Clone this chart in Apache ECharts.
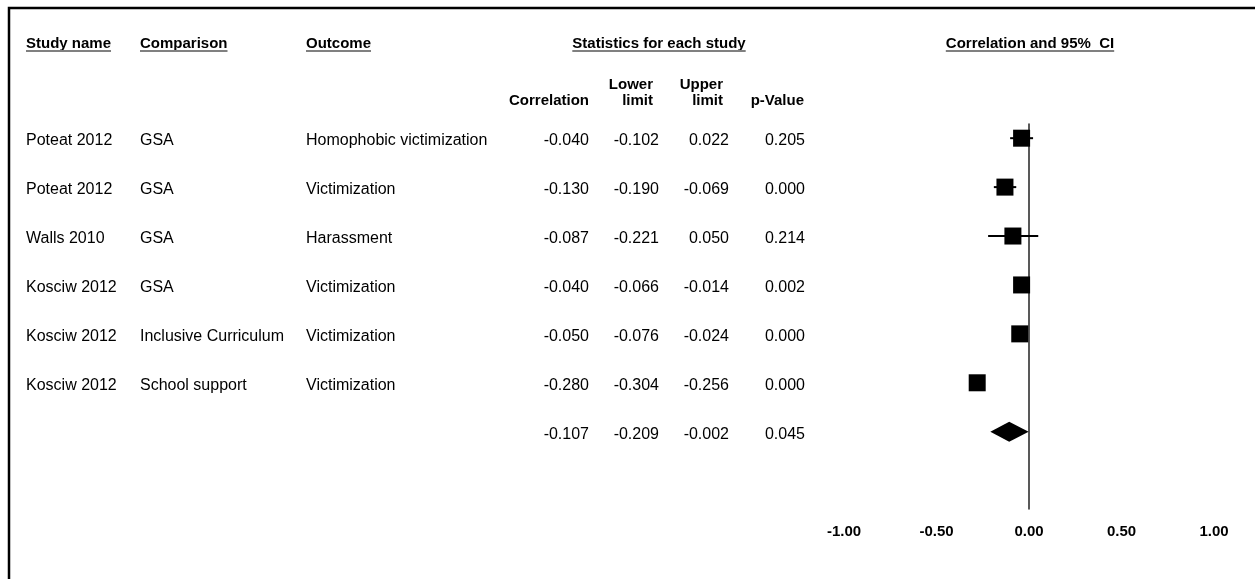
<!DOCTYPE html>
<html>
<head>
<meta charset="utf-8">
<script src="https://cdn.jsdelivr.net/npm/echarts@6/dist/echarts.min.js"></script>
<style>
  html, body { margin: 0; padding: 0; background: #fff; }
  #chart { width: 1255px; height: 579px; }
</style>
</head>
<body>
<div id="chart"></div>
<script>
// study rows
const studyNames = ['Poteat 2012', 'Poteat 2012', 'Walls 2010', 'Kosciw 2012', 'Kosciw 2012', 'Kosciw 2012']
const comparisons = ['GSA', 'GSA', 'GSA', 'GSA', 'Inclusive Curriculum', 'School support']
const outcomes = ['Homophobic victimization', 'Victimization', 'Harassment', 'Victimization', 'Victimization', 'Victimization']
const correlation = [-0.040, -0.130, -0.087, -0.040, -0.050, -0.280]
const lowerLimit = [-0.102, -0.190, -0.221, -0.066, -0.076, -0.304]
const upperLimit = [0.022, -0.069, 0.050, -0.014, -0.024, -0.256]
const pValue = [0.205, 0.000, 0.214, 0.002, 0.000, 0.000]
// pooled row: correlation, lower, upper, p
const summaryStats = [-0.107, -0.209, -0.002, 0.045]
const axisTicks = [-1, -0.5, 0, 0.5, 1]

const FONT = '"Liberation Sans", Arial, sans-serif'
const SUMMARY_ROW = studyNames.length
// y range of both grids, in row units (row 0 on top)
const ROW_MIN = -0.29
const ROW_MAX = 7.58

// column anchors of the table part (px)
const COLS = {
  study: { x: 26, align: 'left' },
  comp: { x: 140, align: 'left' },
  outcome: { x: 306, align: 'left' },
  r: { x: 589, align: 'right' },
  lo: { x: 659, align: 'right' },
  hi: { x: 729, align: 'right' },
  p: { x: 805, align: 'right' },
}

const cells = []
function addCell(col, row, text) {
  cells.push({ ...COLS[col], row, text })
}
studyNames.forEach((s, i) => {
  addCell('study', i, s)
  addCell('comp', i, comparisons[i])
  addCell('outcome', i, outcomes[i])
  addCell('r', i, correlation[i].toFixed(3))
  addCell('lo', i, lowerLimit[i].toFixed(3))
  addCell('hi', i, upperLimit[i].toFixed(3))
  addCell('p', i, pValue[i].toFixed(3))
})
addCell('r', SUMMARY_ROW, summaryStats[0].toFixed(3))
addCell('lo', SUMMARY_ROW, summaryStats[1].toFixed(3))
addCell('hi', SUMMARY_ROW, summaryStats[2].toFixed(3))
addCell('p', SUMMARY_ROW, summaryStats[3].toFixed(3))

// measure header text so the underline fits it
const ctx = document.createElement('canvas').getContext('2d')
function textWidth(t) {
  ctx.font = `bold 15px ${FONT}`
  return ctx.measureText(t).width
}

function header(text, x, y, align, underline) {
  const els = [{
    type: 'text', x, y,
    style: { text, fill: '#000', fontSize: 15, fontWeight: 'bold', fontFamily: FONT, align, verticalAlign: 'middle' },
  }]
  if (underline) {
    const w = textWidth(text)
    const x0 = align === 'center' ? x - w / 2 : align === 'right' ? x - w : x
    els.push({
      type: 'line',
      shape: { x1: x0, y1: y + 7, x2: x0 + w, y2: y + 7 },
      style: { stroke: '#808080', lineWidth: 2 },
    })
  }
  return els
}

const graphics = [
  // frame (only top and left edges fall inside the view)
  { type: 'rect', shape: { x: 9, y: 8, width: 1400, height: 800 }, style: { fill: null, stroke: '#000', lineWidth: 2.5 } },
  ...header('Study name', 26, 44, 'left', true),
  ...header('Comparison', 140, 44, 'left', true),
  ...header('Outcome', 306, 44, 'left', true),
  ...header('Statistics for each study', 659, 44, 'center', true),
  ...header('Correlation and 95%  CI', 1030, 44, 'center', true),
  ...header('Correlation', 589, 101, 'right', false),
  ...header('Lower', 653, 85, 'right', false),
  ...header('limit', 653, 101, 'right', false),
  ...header('Upper', 723, 85, 'right', false),
  ...header('limit', 723, 101, 'right', false),
  ...header('p-Value', 804, 101, 'right', false),
]

const chart = echarts.init(document.getElementById('chart'))

chart.setOption({
  animation: false,
  backgroundColor: '#fff',
  graphic: graphics,
  grid: [
    { left: 0, right: 0, top: 124, height: 385 },
    { left: 844, right: 41, top: 124, height: 385 },
  ],
  xAxis: [
    { gridIndex: 0, type: 'value', min: 0, max: 1255, show: false },
    {
      gridIndex: 1, type: 'value', min: axisTicks[0], max: axisTicks[axisTicks.length - 1], interval: 0.5,
      axisLine: { show: false }, axisTick: { show: false }, splitLine: { show: false },
      axisLabel: {
        margin: 15, color: '#000', fontSize: 15, fontWeight: 'bold', fontFamily: FONT,
        formatter: (v) => v.toFixed(2),
      },
    },
  ],
  yAxis: [
    { gridIndex: 0, type: 'value', min: ROW_MIN, max: ROW_MAX, inverse: true, show: false },
    {
      gridIndex: 1, type: 'value', min: ROW_MIN, max: ROW_MAX, inverse: true,
      axisLine: { show: true, onZero: true, lineStyle: { color: '#222', width: 1.5 } },
      axisTick: { show: false }, axisLabel: { show: false }, splitLine: { show: false },
    },
  ],
  series: [
    {
      type: 'custom',
      xAxisIndex: 0, yAxisIndex: 0,
      data: cells.map((c) => [c.x, c.row]),
      encode: { x: 0, y: 1 },
      renderItem(params, api) {
        const c = cells[params.dataIndex]
        const p = api.coord([c.x, c.row])
        return {
          type: 'text', x: p[0], y: p[1] + 2.5,
          style: { text: c.text, fill: '#000', fontSize: 16, fontFamily: FONT, align: c.align, verticalAlign: 'middle' },
        }
      },
    },
    {
      type: 'custom',
      xAxisIndex: 1, yAxisIndex: 1,
      data: correlation.map((r, i) => [r, i, lowerLimit[i], upperLimit[i]]),
      encode: { x: 0, y: 1 },
      renderItem(params, api) {
        const c = api.coord([api.value(0), api.value(1)])
        const lo = api.coord([api.value(2), api.value(1)])
        const hi = api.coord([api.value(3), api.value(1)])
        const s = 17
        return {
          type: 'group',
          children: [
            { type: 'line', shape: { x1: lo[0], y1: lo[1], x2: hi[0], y2: hi[1] }, style: { stroke: '#000', lineWidth: 2 } },
            { type: 'rect', shape: { x: c[0] - s / 2, y: c[1] - s / 2, width: s, height: s }, style: { fill: '#000' } },
          ],
        }
      },
    },
    {
      type: 'custom',
      xAxisIndex: 1, yAxisIndex: 1,
      data: [[summaryStats[0], SUMMARY_ROW, summaryStats[1], summaryStats[2]]],
      encode: { x: 0, y: 1 },
      renderItem(params, api) {
        const c = api.coord([api.value(0), api.value(1)])
        const lo = api.coord([api.value(2), api.value(1)])
        const hi = api.coord([api.value(3), api.value(1)])
        const h = 10
        return {
          type: 'polygon',
          shape: { points: [[lo[0], c[1]], [c[0], c[1] - h], [hi[0], c[1]], [c[0], c[1] + h]] },
          style: { fill: '#000' },
        }
      },
    },
  ],
})
</script>
</body>
</html>
